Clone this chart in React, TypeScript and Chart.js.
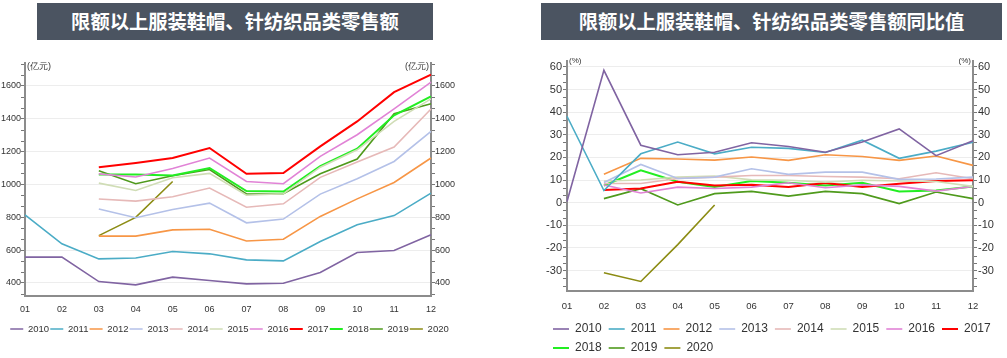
import React, { useEffect, useRef } from 'react';
import { Chart, registerables } from 'chart.js';

Chart.register(...registerables);

const months = ['01', '02', '03', '04', '05', '06', '07', '08', '09', '10', '11', '12'];
const years = ['2010', '2011', '2012', '2013', '2014', '2015', '2016', '2017', '2018', '2019', '2020'];
const lineColors = ['#8064a2', '#4bacc6', '#f79646', '#b4c1e8', '#e6b9b8', '#d0ddb6', '#e183d6', '#ff0000', '#22ee22', '#4f9a1c', '#8c8c14'];
const lineWidths = [1.6, 1.6, 1.6, 1.6, 1.6, 1.6, 1.6, 2, 2, 1.6, 1.6];

const leftTitle = '限额以上服装鞋帽、针纺织品类零售额';
const rightTitle = '限额以上服装鞋帽、针纺织品类零售额同比值';
const amountUnit = '(亿元)';
const yoyUnit = '(%)';

const amountTicks = [400, 600, 800, 1000, 1200, 1400, 1600];
const yoyTicks = [-30, -20, -10, 0, 10, 20, 30, 40, 50, 60];

// 零售额 (亿元)
const amt2010 = [557, 557, 408, 388, 435, 414, 394, 398, 463, 585, 597, 693];
const amt2011 = [815, 638, 546, 552, 591, 577, 540, 534, 652, 754, 810, 947];
const amt2012 = [null, null, 685, 685, 723, 727, 655, 666, 805, 912, 1012, 1161];
const amt2013 = [null, null, 850, 797, 847, 886, 766, 789, 941, 1035, 1140, 1323];
const amt2014 = [null, null, 911, 898, 925, 978, 861, 882, 1043, 1136, 1228, 1460];
const amt2015 = [null, null, 1008, 963, 1041, 1067, 934, 943, 1105, 1211, 1384, 1521];
const amt2016 = [null, null, 1064, 1045, 1097, 1161, 1018, 1004, 1171, 1303, 1460, 1624];
const amt2017 = [null, null, 1104, 1130, 1161, 1222, 1065, 1069, 1232, 1384, 1562, 1669];
const amt2018 = [null, null, 1061, 1060, 1054, 1100, 960, 957, 1112, 1218, 1421, 1537];
const amt2019 = [null, null, 1083, 1004, 1053, 1091, 942, 943, 1065, 1155, 1431, 1492];
const amt2020 = [null, null, 688, 799, 1018, null, null, null, null, null, null, null];

// 同比 (%)
const yoy2010 = [0.5, 58.5, 25.4, 21.2, 22.3, 26.5, 24.8, 22.3, 26.8, 32.6, 20.8, 27.4];
const yoy2011 = [38.2, 5.4, 21.6, 26.8, 21.6, 24.5, 24.0, 22.2, 27.6, 19.6, 22.8, 26.7];
const yoy2012 = [null, 12.6, 19.6, 19.3, 18.8, 20.2, 18.7, 21.2, 20.4, 18.7, 20.6, 16.5];
const yoy2013 = [null, 8.9, 16.9, 10.7, 11.3, 15.0, 12.5, 13.5, 13.5, 10.3, 10.5, 11.3];
const yoy2014 = [null, 8.5, 8.5, 10.7, 11.3, 12.0, 12.0, 11.6, 11.3, 10.6, 13.2, 10.6];
const yoy2015 = [null, 9.6, 10.0, 11.3, 11.8, 10.1, 9.9, 9.1, 9.9, 9.6, 9.4, 7.2];
const yoy2016 = [null, 7.8, 4.3, 6.9, 6.3, 6.9, 8.8, 6.6, 7.9, 7.2, 5.1, 7.2];
const yoy2017 = [null, 5.6, 6.3, 9.3, 7.6, 7.9, 6.9, 8.7, 6.9, 8.4, 9.6, 9.9];
const yoy2018 = [null, 7.6, 14.3, 9.3, 7.0, 9.6, 8.8, 7.6, 8.8, 5.0, 5.4, 7.2];
const yoy2019 = [null, 1.8, 6.2, -1.0, 4.0, 5.0, 2.9, 5.0, 4.0, -0.4, 4.7, 1.8];
const yoy2020 = [null, -30.9, -34.8, -18.5, -1.0, null, null, null, null, null, null, null];

const amountSeries = [amt2010, amt2011, amt2012, amt2013, amt2014, amt2015, amt2016, amt2017, amt2018, amt2019, amt2020];
const yoySeries = [yoy2010, yoy2011, yoy2012, yoy2013, yoy2014, yoy2015, yoy2016, yoy2017, yoy2018, yoy2019, yoy2020];

const SANS = '"Liberation Sans", Arial, sans-serif';

const minorTicksPlugin = {
  id: 'minorTicks',
  afterDraw(chart: any, _args: any, opts: any) {
    const { ctx, chartArea } = chart;
    ['y', 'y2'].forEach((id) => {
      const s = chart.scales[id];
      if (!s || !opts.step) return;
      const base = opts.base;
      const step = opts.step;
      ctx.save();
      ctx.strokeStyle = opts.color;
      ctx.lineWidth = 1;
      for (let k = Math.floor((s.min - base) / step); base + k * step <= s.max + 1e-6; k++) {
        const v = base + k * step;
        if (v < s.min - 1e-6 || k % 3 === 0) continue;
        const y = Math.round(s.getPixelForValue(v)) + 0.5;
        const x = id === 'y' ? chartArea.left - 1 : chartArea.right + 1;
        const dir = id === 'y' ? -1 : 1;
        ctx.beginPath();
        ctx.moveTo(x, y);
        ctx.lineTo(x + dir * opts.len, y);
        ctx.stroke();
      }
      ctx.restore();
    });
  },
};

const unitPlugin = {
  id: 'unitLabels',
  afterDraw(chart: any, _args: any, opts: any) {
    const { ctx, chartArea } = chart;
    ctx.save();
    ctx.fillStyle = '#333';
    ctx.font = `${opts.size}px ${opts.family}`;
    ctx.textBaseline = 'middle';
    ctx.textAlign = 'left';
    ctx.fillText(opts.text, chartArea.left + 2, chartArea.top + opts.dy);
    ctx.textAlign = 'right';
    ctx.fillText(opts.text, chartArea.right - 2, chartArea.top + opts.dy);
    ctx.restore();
  },
};

function makeConfig(p: any) {
  const datasets = years.map((yr, i) => ({
    label: yr,
    data: p.series[i],
    borderColor: lineColors[i],
    backgroundColor: lineColors[i],
    borderWidth: lineWidths[i],
    pointRadius: 0,
    pointHoverRadius: 0,
    tension: 0,
    fill: false,
  }));
  const yCommon = (pos: string, width: number) => ({
    type: 'linear',
    position: pos,
    min: p.min,
    max: p.max,
    afterBuildTicks: (s: any) => {
      s.ticks = p.ticks.map((v: number) => ({ value: v }));
    },
    afterFit: (s: any) => {
      s.width = width;
    },
    grid: {
      color: '#ededed',
      lineWidth: 1,
      tickColor: '#777',
      tickLength: 4,
      drawOnChartArea: pos === 'left',
    },
    border: { color: '#8c8c8c', width: 2 },
    ticks: {
      color: '#333',
      padding: p.yPad,
      font: { family: SANS, size: p.ySize },
      autoSkip: false,
      callback: (v: any) => String(v),
    },
  });
  return {
    type: 'line',
    data: { labels: months, datasets },
    plugins: [minorTicksPlugin, unitPlugin],
    options: {
      responsive: false,
      animation: false,
      events: [],
      layout: { padding: p.padding },
      scales: {
        x: {
          type: 'category',
          offset: false,
          afterFit: (s: any) => {
            s.height = p.xHeight;
          },
          grid: { display: false, drawTicks: false },
          border: { color: '#8c8c8c', width: 2 },
          ticks: {
            color: '#333',
            padding: p.xPad,
            autoSkip: false,
            maxRotation: 0,
            font: { family: SANS, size: p.xSize },
          },
        },
        y: yCommon('left', p.yLeftW),
        y2: yCommon('right', p.yRightW),
      },
      plugins: {
        tooltip: { enabled: false },
        title: { display: false },
        legend: {
          position: 'bottom',
          align: p.legendAlign,
          labels: {
            usePointStyle: true,
            pointStyle: 'line',
            pointStyleWidth: p.legendBox,
            padding: p.legendPad,
            color: '#333',
            font: { family: SANS, size: p.legendSize },
          },
        },
        minorTicks: { step: p.minorStep, base: p.ticks[0], len: 3, color: '#777' },
        unitLabels: { text: p.unit, size: p.unitSize, family: SANS, dy: p.unitDy },
      },
    },
  };
}

function ChartCanvas({ config, style, width, height }: any) {
  const ref = useRef<HTMLCanvasElement | null>(null);
  useEffect(() => {
    if (!ref.current) return;
    const chart = new Chart(ref.current, config);
    return () => chart.destroy();
  }, []);
  return <canvas ref={ref} width={width} height={height} style={{ position: 'absolute', display: 'block', ...style }} />;
}

const titleStyle: any = {
  position: 'absolute',
  top: 3,
  height: 37,
  background: '#4b5461',
  color: '#ffffff',
  fontFamily: '"Noto Sans CJK SC", "Noto Sans", sans-serif',
  fontWeight: 700,
  fontSize: 19.3,
  lineHeight: '37px',
  textAlign: 'center',
  whiteSpace: 'nowrap',
};

export default function App() {
  const leftConfig = makeConfig({
    series: amountSeries,
    min: 320,
    max: 1740,
    ticks: amountTicks,
    minorStep: 200 / 3,
    unit: amountUnit,
    unitSize: 9,
    unitDy: 3.5,
    padding: { top: 21, left: 0, right: 41, bottom: 28.25 },
    yLeftW: 25,
    yRightW: 28,
    yPad: 0,
    xHeight: 27.1,
    xPad: 8,
    xSize: 9,
    ySize: 9,
    legendAlign: 'center',
    legendBox: 13,
    legendPad: 1.15,
    legendSize: 9.5,
  });
  const rightConfig = makeConfig({
    series: yoySeries,
    min: -39,
    max: 62.6,
    ticks: yoyTicks,
    minorStep: 10 / 3,
    unit: yoyUnit,
    unitSize: 8,
    unitDy: 0,
    padding: { top: 19, left: 46, right: 0, bottom: 8 },
    yLeftW: 21,
    yRightW: 34,
    yPad: 1,
    xHeight: 25,
    xPad: 9.5,
    xSize: 9.5,
    ySize: 11,
    legendAlign: 'start',
    legendBox: 16,
    legendPad: 7,
    legendSize: 12,
  });
  return (
    <div style={{ position: 'absolute', left: 0, top: 0, width: 1007, height: 358, overflow: 'hidden', background: '#fff' }}>
      <div style={{ ...titleStyle, left: 37, width: 396 }}>{leftTitle}</div>
      <div style={{ ...titleStyle, left: 541, width: 461 }}>{rightTitle}</div>
      <ChartCanvas config={leftConfig} width={500} height={330} style={{ left: 0, top: 42 }} />
      <ChartCanvas config={rightConfig} width={507} height={330} style={{ left: 500, top: 42 }} />
    </div>
  );
}
